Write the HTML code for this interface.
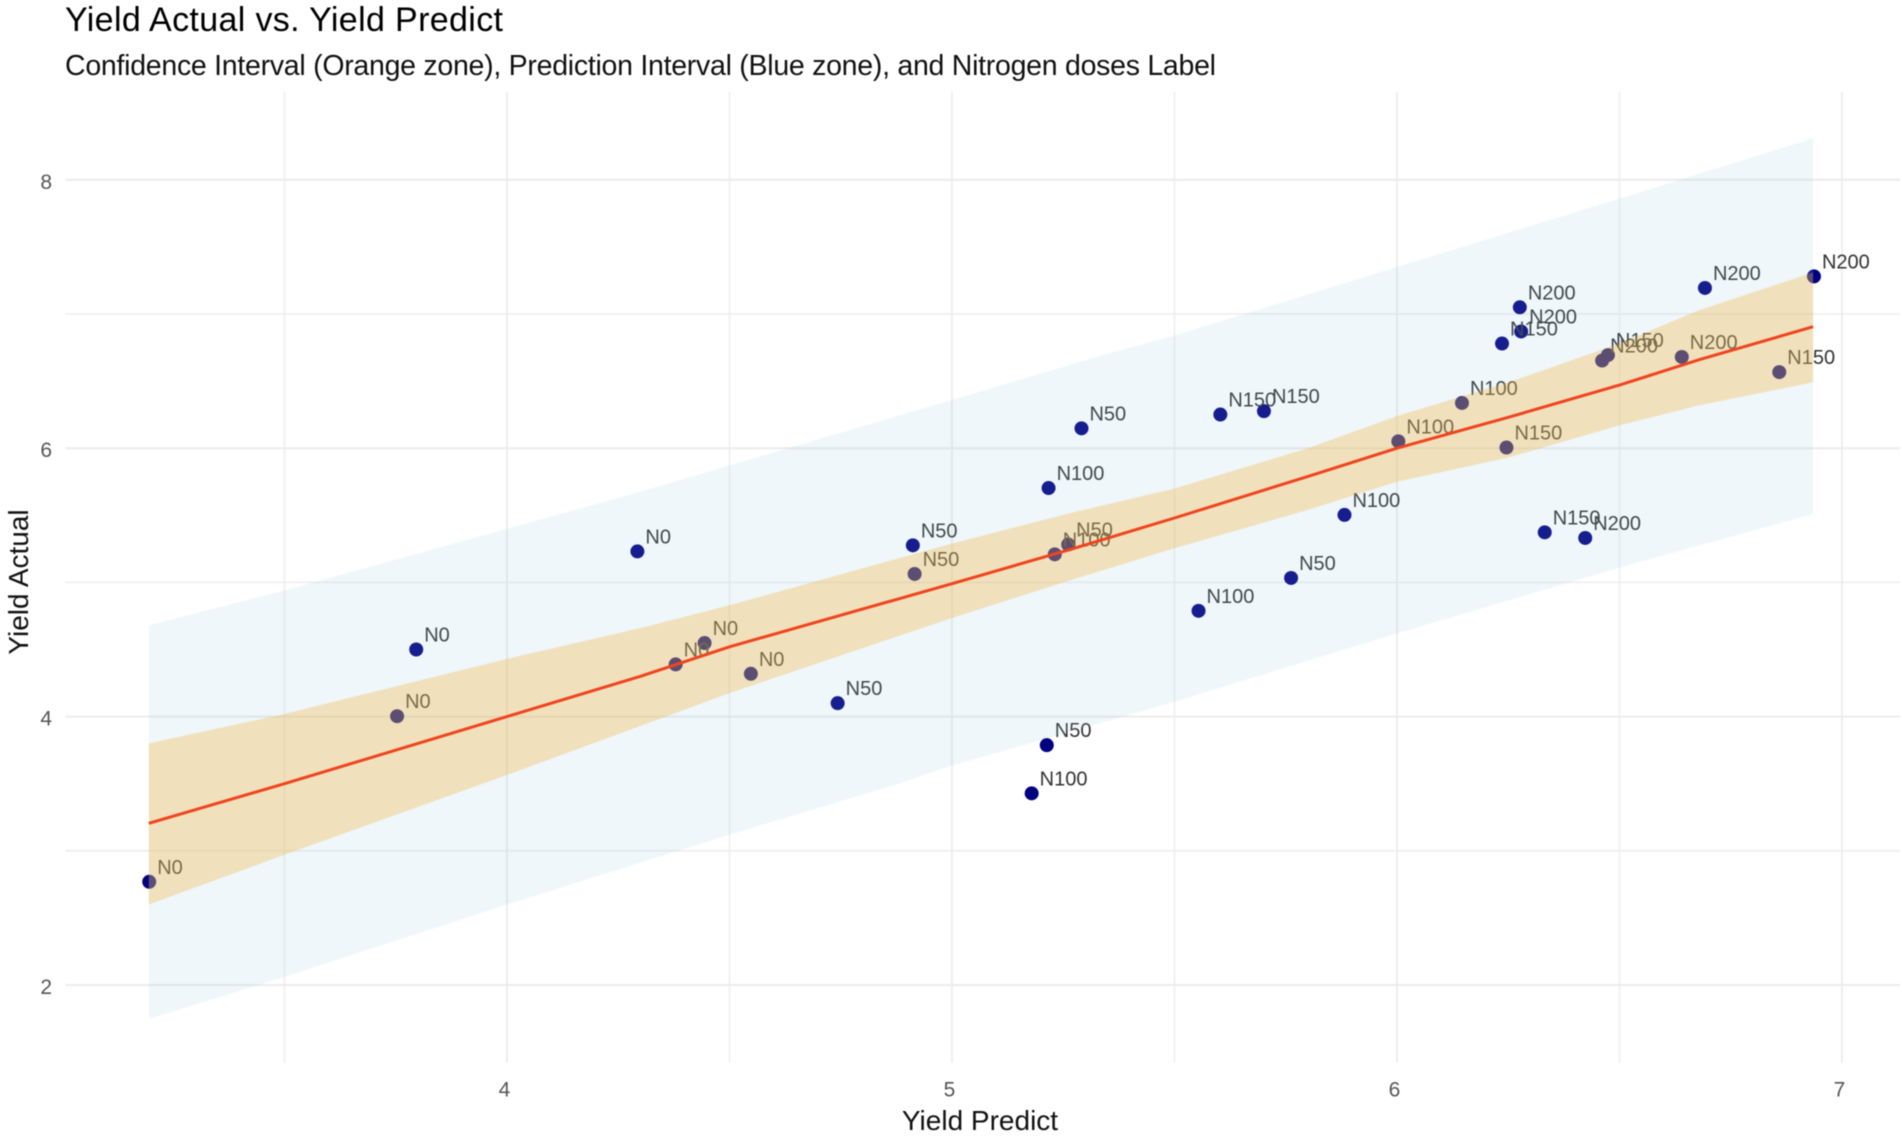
<!DOCTYPE html>
<html lang="en">
<head>
<meta charset="utf-8">
<title>Yield Actual vs. Yield Predict</title>
<style>
html,body{margin:0;padding:0;background:#fff;width:1902px;height:1137px;overflow:hidden}
svg{display:block;filter:blur(0.6px)}
text{font-family:"Liberation Sans",Arial,sans-serif}
</style>
</head>
<body>
<svg id="chart" xmlns="http://www.w3.org/2000/svg" width="1902" height="1137" viewBox="0 0 1902 1137">
  <rect x="0" y="0" width="1902" height="1137" fill="#ffffff"/>
  <g id="grid"></g>
  <g id="points"></g>
  <g id="labels"></g>
  <path id="pi" fill="rgb(145,200,230)" fill-opacity="0.15"/>
  <path id="ci" fill="rgb(244,180,56)" fill-opacity="0.32"/>
  <path id="fit" fill="none" stroke="#f0441e" stroke-width="3" stroke-linejoin="round"/>
  <g id="ticks"></g>
  <text x="65" y="31" font-size="34" textLength="438" fill="#000">Yield Actual vs. Yield Predict</text>
  <text x="65" y="75" font-size="28.5" textLength="1151" fill="#111">Confidence Interval (Orange zone), Prediction Interval (Blue zone), and Nitrogen doses Label</text>
  <text x="980" y="1130" font-size="28" text-anchor="middle" fill="#111">Yield Predict</text>
  <text transform="translate(28,582) rotate(-90)" font-size="28" text-anchor="middle" fill="#111">Yield Actual</text>
</svg>
<script>
const doseLabels = ["N0","N0","N0","N0","N0","N0","N0",
  "N50","N50","N50","N50","N50","N50","N50",
  "N100","N100","N100","N100","N100","N100","N100",
  "N150","N150","N150","N150","N150","N150","N150",
  "N200","N200","N200","N200","N200","N200","N200"];
const yieldPredict = [3.196,3.753,3.796,4.293,4.379,4.444,4.548,
  4.743,4.912,4.916,5.213,5.261,5.291,5.762,
  5.179,5.217,5.231,5.554,5.882,6.003,6.146,
  5.603,5.701,6.236,6.246,6.332,6.474,6.859,
  6.276,6.279,6.423,6.461,6.640,6.692,6.937];
const yieldActual = [2.769,4.003,4.500,5.231,4.389,4.548,4.319,
  4.100,5.276,5.063,3.787,5.282,6.148,5.033,
  3.428,5.703,5.209,4.788,5.503,6.051,6.337,
  6.251,6.276,6.780,6.005,5.373,6.694,6.567,
  7.050,6.870,5.331,6.653,6.680,7.194,7.280];

const fitX = [3.195,3.5,4.0,4.3,4.5,5.0,5.27,5.5,5.8,6.0,6.25,6.5,6.68,6.935];
const fitY = [3.205,3.50,4.0,4.30,4.52,4.99,5.25,5.48,5.79,6.0,6.23,6.47,6.66,6.905];
const ciUpper = [3.80,4.02,4.43,4.66,4.83,5.29,5.52,5.70,6.00,6.24,6.49,6.78,7.03,7.31];
const ciLower = [2.60,2.97,3.565,3.93,4.175,4.735,5.02,5.255,5.54,5.75,5.93,6.17,6.32,6.49];

const piUpperX = [3.195,3.5,3.75,4.3,5.0,5.335,5.5,6.0,6.5,6.935];
const piUpperY = [4.68,4.94,5.17,5.676,6.36,6.69,6.84,7.35,7.86,8.31];
const piLowerX = [3.195,3.5,4.0,4.5,4.88,5.0,5.5,6.0,6.5,6.935];
const piLowerY = [1.747,2.06,2.60,3.12,3.50,3.635,4.11,4.62,5.11,5.51];

const xMajorTicks = [4,5,6,7];
const xMinorTicks = [3.5,4.5,5.5,6.5];
const yMajorTicks = [2,4,6,8];
const yMinorTicks = [3,5,7];

const NS = "http://www.w3.org/2000/svg";
const panel = {left:65.5,right:1900,top:92,bottom:1062.5};
function xScale(v){return 507+445*(v-4);}
function yScale(v){return 985-134.2*(v-2);}
function mk(tag,attrs,parent){
  const el=document.createElementNS(NS,tag);
  for(const k in attrs){el.setAttribute(k,attrs[k]);}
  parent.appendChild(el);
  return el;
}
function pathFrom(xs,ys){
  return xs.map((v,i)=>(i?"L":"M")+xScale(v).toFixed(1)+" "+yScale(ys[i]).toFixed(1)).join(" ");
}
function bandPath(xu,yu,xl,yl){
  const rx=xl.slice().reverse(), ry=yl.slice().reverse();
  return pathFrom(xu.concat(rx),yu.concat(ry))+" Z";
}

const gridG=document.getElementById("grid");
const tickG=document.getElementById("ticks");
xMinorTicks.forEach(v=>{
  const l=mk("line",{x1:xScale(v),x2:xScale(v),y1:panel.top,y2:panel.bottom,stroke:"#efefef","stroke-width":1.6},gridG);
  
  
});
yMinorTicks.forEach(v=>{
  const l=mk("line",{x1:panel.left,x2:panel.right,y1:yScale(v),y2:yScale(v),stroke:"#efefef","stroke-width":1.8},gridG);
  
  
});
xMajorTicks.forEach(v=>{
  const l=mk("line",{x1:xScale(v),x2:xScale(v),y1:panel.top,y2:panel.bottom,stroke:"#ececec","stroke-width":1.8},gridG);
  
  
  const t=mk("text",{x:xScale(v)-2.5,y:1096.5,"font-size":21,"text-anchor":"middle",fill:"#555"},tickG);
  t.textContent=String(v);
  
  
});
yMajorTicks.forEach(v=>{
  const l=mk("line",{x1:panel.left,x2:panel.right,y1:yScale(v),y2:yScale(v),stroke:"#ececec","stroke-width":2},gridG);
  
  
  const t=mk("text",{x:52,y:yScale(v)+9,"font-size":21,"text-anchor":"end",fill:"#555"},tickG);
  t.textContent=String(v);
  
  
});

const ptG=document.getElementById("points");
const lbG=document.getElementById("labels");
yieldPredict.forEach((px,i)=>{
  const cx=xScale(px), cy=yScale(yieldActual[i]);
  const c=mk("circle",{cx:cx,cy:cy,r:7,fill:"#000080"},ptG);
  
  
  const t=mk("text",{x:cx+8,y:cy-8,"font-size":20,fill:"#333"},lbG);
  t.textContent=doseLabels[i];
  
  
});

document.getElementById("pi").setAttribute("d",bandPath(piUpperX,piUpperY,piLowerX,piLowerY));
document.getElementById("ci").setAttribute("d",bandPath(fitX,ciUpper,fitX,ciLower));
document.getElementById("fit").setAttribute("d",pathFrom(fitX,fitY));
</script>
</body>
</html>
